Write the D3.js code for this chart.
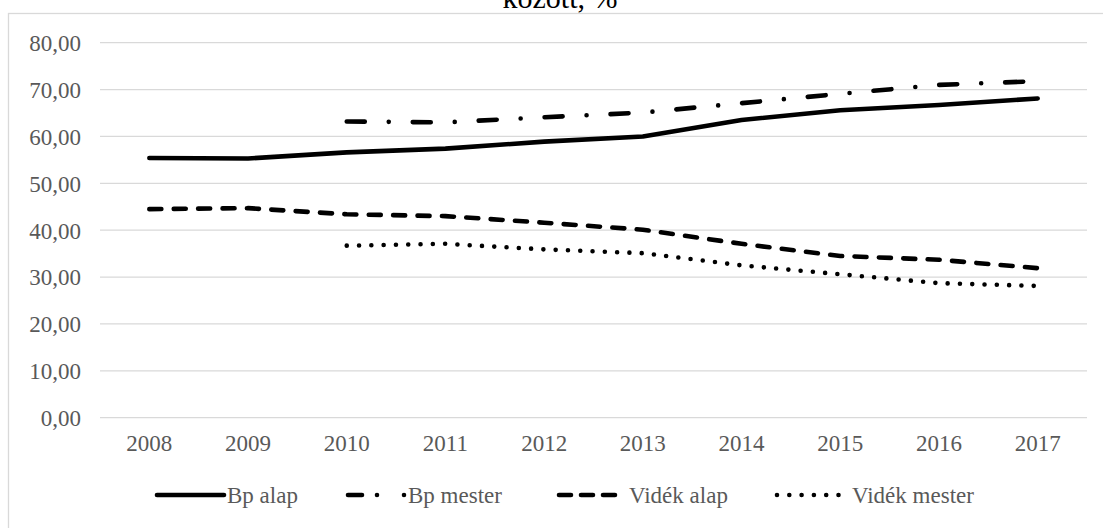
<!DOCTYPE html>
<html><head><meta charset="utf-8">
<script src="https://cdn.jsdelivr.net/npm/d3@7"></script>
<style>body{margin:0;background:#fff}svg{display:block}</style>
</head><body>
<svg id="c" width="1103" height="528"></svg>
<script>
const years = [2008,2009,2010,2011,2012,2013,2014,2015,2016,2017];
const bpAlap = [55.4,55.3,56.6,57.4,58.9,60.0,63.5,65.6,66.7,68.1];
const bpMester = [null,null,63.2,63.0,64.1,65.1,67.1,69.1,71.0,71.8];
const videkAlap = [44.5,44.7,43.4,43.0,41.6,40.1,37.1,34.5,33.7,31.9];
const videkMester = [null,null,36.7,37.1,35.9,35.1,32.5,30.6,28.7,28.1];
const seriesNames = ["Bp alap","Bp mester","Vidék alap","Vidék mester"];
const yTicks = [0,10,20,30,40,50,60,70,80];
const titleText = "között, %";

const svg = d3.select("#c");
const font = "'Liberation Serif','Times New Roman',serif";
// chart border
svg.append("rect").attr("x",8.5).attr("y",13.5).attr("width",1200).attr("height",600)
  .attr("fill","none").attr("stroke","#d9d9d9").attr("stroke-width",1.3);
// title (partially cropped, as in the reference)
svg.append("text").attr("x",560).attr("y",8).attr("text-anchor","middle")
  .attr("font-family",font).attr("font-size",30).attr("fill","#000").text(titleText);

const x = d3.scaleBand().domain(years).range([100,1087]);
const y = d3.scaleLinear().domain([0,80]).range([417.7,42.7]);

// gridlines
svg.append("g").selectAll("line").data(yTicks).join("line")
  .attr("x1",100).attr("x2",1087).attr("y1",d=>y(d)).attr("y2",d=>y(d))
  .attr("stroke","#d9d9d9").attr("stroke-width",1.3);

// y axis labels
const yAxis = svg.append("g").attr("transform","translate(81,0)")
  .call(d3.axisLeft(y).tickValues(yTicks).tickSize(0).tickPadding(0)
    .tickFormat(d=>d3.format(".2f")(d).replace(".",",")));
yAxis.select(".domain").remove();
yAxis.selectAll("text").attr("font-family",font).attr("font-size",23).attr("fill","#595959").attr("dy","0.34em");

// x axis labels
const xAxis = svg.append("g").attr("transform","translate(0,418)")
  .call(d3.axisBottom(x).tickSize(0).tickPadding(0));
xAxis.select(".domain").remove();
xAxis.selectAll("text").attr("font-family",font).attr("font-size",23).attr("fill","#595959").attr("dy","1.45em");

const styles = [
  {dash:null, leg:null},
  {dash:"18,24,0,24", leg:"14,15,0,27,0,200"},
  {dash:"12,12.4", leg:"12,10"},
  {dash:"0,12.3", leg:"0,12.3"}
];
const data = [bpAlap,bpMester,videkAlap,videkMester];
const line = d3.line().defined(d=>d!=null)
  .x((d,i)=>x(years[i])+x.bandwidth()/2).y(d=>y(d));
data.forEach((s,k)=>{
  svg.append("path").attr("d",line(s)).attr("fill","none").attr("stroke","#000")
    .attr("stroke-width",4.6).attr("stroke-linecap","round").attr("stroke-linejoin","round")
    .attr("stroke-dasharray",styles[k].dash);
});

// legend
const legY = 495;
const legSample = [[157,224],[348,405],[559,617],[777,840]];
const lg = svg.append("g");
seriesNames.forEach((n,k)=>{
  const [a,b] = legSample[k];
  lg.append("line").attr("x1",a).attr("x2",b).attr("y1",legY).attr("y2",legY)
    .attr("stroke","#000").attr("stroke-width",4.6).attr("stroke-linecap","round")
    .attr("stroke-dasharray",styles[k].leg);
  lg.append("text").attr("x",b+(k===0||k===1?3:12)).attr("y",legY).attr("dy","0.34em")
    .attr("font-family",font).attr("font-size",23).attr("fill","#595959").text(n);
});
</script>
</body></html>
